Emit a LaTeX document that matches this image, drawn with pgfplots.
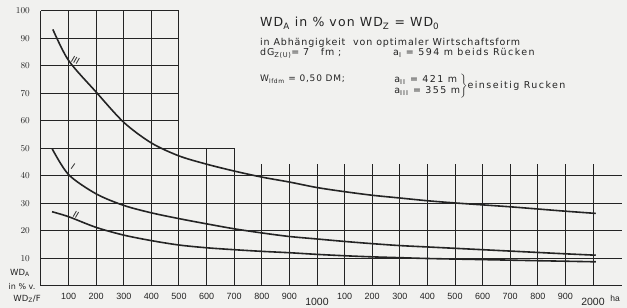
\documentclass[border=0pt]{standalone}
\usepackage{fontspec}
\setmainfont{DejaVu Sans}
\newfontfamily\wide[LetterSpace=9]{DejaVu Sans}
\newfontfamily\wider[LetterSpace=15]{DejaVu Sans}
\newfontfamily\numfont{Liberation Sans}
\usepackage{pgfplots}
\pgfplotsset{compat=1.18}
\definecolor{ink}{HTML}{242424}
\definecolor{paper}{HTML}{F1F1EF}
\begin{document}
\begin{tikzpicture}[x=1pt,y=1pt]
\path[use as bounding box, fill=paper] (-41,-22) rectangle (586,286);
\begin{axis}[
  at={(0,0)}, anchor=south west,
  x=0.276pt, y=2.75pt,
  xmin=0, xmax=2105, ymin=0, ymax=100,
  clip=false,
  axis x line*=bottom, axis y line*=left,
  axis line style={draw=none},
  major tick length=0pt,
  xtick={100,200,300,400,500,600,700,800,900,1000,1100,1200,1300,1400,1500,1600,1700,1800,1900,2000},
  xticklabels={100,200,300,400,500,600,700,800,900,{\raisebox{-5pt}{\fontsize{10.5}{12}\selectfont 1000}},100,200,300,400,500,600,700,800,900,{\raisebox{-5pt}{\fontsize{10.5}{12}\selectfont 2000}}},
  xticklabel style={font=\numfont\fontsize{9}{10}\selectfont, text=ink, anchor=base, yshift=-14pt, inner sep=0pt},
  ytick={10,20,30,40,50,60,70,80,90,100},
  yticklabel style={font=\numfont\fontsize{9}{10}\selectfont, text=ink, anchor=east, inner sep=0pt, xshift=-11pt},
]
% grid
\pgfplotsinvokeforeach{0,100,200,300,400,500}{\draw[ink, line width=1pt] (axis cs:#1,0) -- (axis cs:#1,100);}
\pgfplotsinvokeforeach{600,700}{\draw[ink, line width=1pt] (axis cs:#1,0) -- (axis cs:#1,50);}
\pgfplotsinvokeforeach{800,900,1000,1100,1200,1300,1400,1500,1600,1700,1800,1900,2000}{\draw[ink, line width=1pt] (axis cs:#1,0) -- (axis cs:#1,44.5);}
\pgfplotsinvokeforeach{60,70,80,90,100}{\draw[ink, line width=1pt] (axis cs:0,#1) -- (axis cs:500,#1);}
\draw[ink, line width=1pt] (axis cs:0,50) -- (axis cs:700,50);
\pgfplotsinvokeforeach{0,10,20,30,40}{\draw[ink, line width=1pt] (axis cs:0,#1) -- (axis cs:2105,#1);}
% curves
\addplot[ink, line width=1.6pt, smooth] coordinates {(43,93.3)(100,82)(200,70.5)(300,59.5)(400,52)(500,47.3)(600,44.3)(700,41.8)(800,39.6)(900,37.8)(1000,35.8)(1100,34.3)(1200,33)(1300,32)(1400,31)(1500,30.2)(1600,29.5)(1700,28.8)(1800,28)(1900,27.2)(2010,26.4)};
\addplot[ink, line width=1.6pt, smooth] coordinates {(40,50)(100,40.5)(200,33.5)(300,29.3)(400,26.6)(500,24.5)(600,22.6)(700,20.8)(800,19.3)(900,18)(1000,17.1)(1100,16.2)(1200,15.4)(1300,14.7)(1400,14.2)(1500,13.7)(1600,13.2)(1700,12.7)(1800,12.2)(1900,11.7)(2010,11.2)};
\addplot[ink, line width=1.6pt, smooth] coordinates {(40,27)(100,25.2)(200,21.3)(300,18.5)(400,16.5)(500,14.9)(600,13.9)(700,13.2)(800,12.6)(900,12.1)(1000,11.5)(1100,11)(1200,10.6)(1300,10.3)(1400,10)(1600,9.6)(1800,9.2)(2010,8.8)};
% curve labels
\node[text=ink, rotate=-30, font=\numfont\fontsize{9.5}{10}\selectfont] at (axis cs:125,82) {III};
\node[text=ink, rotate=-35, font=\numfont\fontsize{9.5}{10}\selectfont] at (axis cs:116,43.5) {I};
\node[text=ink, rotate=-30, font=\numfont\fontsize{9.5}{10}\selectfont] at (axis cs:127,26) {II};
\node[text=ink, anchor=base west, font=\numfont\fontsize{8.5}{10}\selectfont] at (axis cs:2050,-5.6) {ha};
\end{axis}
% axis caption bottom-left
\node[text=ink, font=\fontsize{8.5}{9}\selectfont] at (-21,13) {WD\textsubscript{A}};
\node[text=ink, font=\fontsize{8}{9}\selectfont] at (-19,-1) {in \% v.};
\node[text=ink, font=\fontsize{8.5}{9}\selectfont] at (-14,-13) {WD\textsubscript{Z}/F};
% text block
\node[text=ink, anchor=base west, font=\wide\fontsize{12.5}{14}\selectfont, inner sep=0pt] at (219,259) {WD\textsubscript{A}\ in \%\ von\ WD\textsubscript{Z} = WD\textsubscript{0}};
\node[text=ink, anchor=base west, font=\wide\fontsize{9.5}{11}\selectfont, inner sep=0pt] at (219,240) {in Abhängigkeit\ \ von optimaler Wirtschaftsform};
\node[text=ink, anchor=base west, font=\wide\fontsize{9.5}{11}\selectfont, inner sep=0pt] at (219,230) {dG\textsubscript{Z(U)}= 7\ \ \ fm ;};
\node[text=ink, anchor=base west, font=\wider\fontsize{9.5}{11}\selectfont, inner sep=0pt] at (352,230) {a\textsubscript{I} = 594 m beids Rücken};
\node[text=ink, anchor=base west, font=\wide\fontsize{9}{11}\selectfont, inner sep=0pt] at (219,204) {W\textsubscript{lfdm} = 0,50 DM;};
\node[text=ink, anchor=west, font=\wider\fontsize{9.5}{11}\selectfont, inner sep=0pt] at (352,200) {$\left.\begin{tabular}{@{}l@{}}a\textsubscript{II} = 421 m\\[0pt] a\textsubscript{III} = 355 m\end{tabular}\right\}$einseitig Rucken};
\end{tikzpicture}
\end{document}
